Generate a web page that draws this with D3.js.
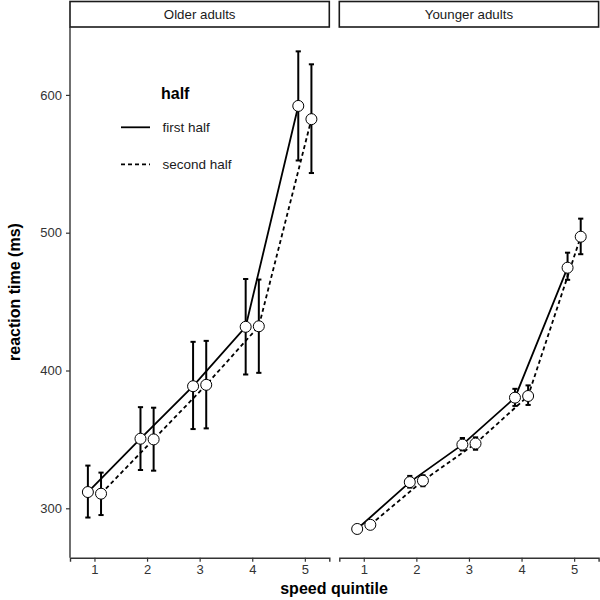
<!DOCTYPE html>
<html><head><meta charset="utf-8">
<script src="https://cdn.jsdelivr.net/npm/d3@7"></script>
<style>body{margin:0;background:#fff}</style>
</head><body>
<svg id="chart" width="600" height="600"></svg>
<script>
const quintiles = [1, 2, 3, 4, 5];
const groups = ["Older adults", "Younger adults"];
const halves = ["first half", "second half"];
const yTicks = [300, 400, 500, 600];

const olderFirst   = [311.8, 350.5, 388.6, 431.7, 592.0];
const olderFirstLo = [293.3, 327.8, 357.5, 397.1, 552.4];
const olderFirstHi = [331.0, 373.4, 420.8, 466.4, 631.6];
const olderSecond   = [310.6, 350.0, 389.6, 432.1, 582.4];
const olderSecondLo = [295.1, 327.3, 358.0, 398.3, 543.3];
const olderSecondHi = [325.9, 373.0, 421.5, 466.0, 622.2];

const youngerFirst   = [285.0, 319.0, 346.2, 380.3, 474.6];
const youngerFirstLo = [283.5, 315.0, 342.0, 374.3, 465.8];
const youngerFirstHi = [286.8, 323.5, 351.0, 386.7, 485.5];
const youngerSecond   = [288.0, 320.0, 347.0, 381.5, 497.1];
const youngerSecondLo = [286.0, 316.0, 342.5, 375.0, 484.4];
const youngerSecondHi = [290.0, 324.0, 351.5, 389.2, 510.2];

const seriesData = {
  "Older adults": [
    {half: halves[0], mean: olderFirst, lo: olderFirstLo, hi: olderFirstHi},
    {half: halves[1], mean: olderSecond, lo: olderSecondLo, hi: olderSecondHi}
  ],
  "Younger adults": [
    {half: halves[0], mean: youngerFirst, lo: youngerFirstLo, hi: youngerFirstHi},
    {half: halves[1], mean: youngerSecond, lo: youngerSecondLo, hi: youngerSecondHi}
  ]
};

const svg = d3.select("#chart");
const font = "'Liberation Sans', Arial, sans-serif";
const panelW = 259.3, panelTop = 27, panelBottom = 557.7;
const panelX = [70, 339.3];
const dodge = {"first half": -0.125, "second half": 0.125};
const dash = {"first half": null, "second half": "4,3"};

const y = d3.scaleLinear().domain([300, 600]).range([508.3, 94.9]);
const x = d3.scaleLinear().domain([0.535, 5.465]).range([0, panelW]);

groups.forEach((g, gi) => {
  const p = svg.append("g").attr("transform", `translate(${panelX[gi]},0)`);
  // strip
  p.append("rect").attr("x", 0).attr("y", 1.5).attr("width", panelW).attr("height", 25.5)
    .attr("fill", "#fff").attr("stroke", "#1a1a1a").attr("stroke-width", 1.6);
  p.append("text").attr("x", panelW / 2).attr("y", 19).attr("text-anchor", "middle")
    .attr("font-family", font).attr("font-size", 13.3).attr("fill", "#1a1a1a").text(g);

  // x axis
  const xa = p.append("g").attr("transform", `translate(0,${panelBottom})`)
    .call(d3.axisBottom(x).tickValues(quintiles).tickFormat(d3.format("d")).tickSize(4).tickPadding(3));
  xa.select(".domain").attr("stroke", "#333").attr("stroke-width", 1.4);
  xa.selectAll(".tick line").attr("stroke", "#333").attr("stroke-width", 1.2);
  xa.selectAll(".tick text").attr("font-family", font).attr("font-size", 13).attr("fill", "#333");

  if (gi === 0) {
    const ya = p.append("g")
      .call(d3.axisLeft(y).tickValues(yTicks).tickSize(4).tickPadding(4));
    ya.select(".domain").attr("d", `M0,${panelTop}V${panelBottom}`).attr("stroke", "#333").attr("stroke-width", 1.4);
    ya.selectAll(".tick line").attr("stroke", "#333").attr("stroke-width", 1.2);
    ya.selectAll(".tick text").attr("font-family", font).attr("font-size", 13).attr("fill", "#333");
  }

  const series = seriesData[g];
  const line = d3.line().x(d => x(d.q + dodge[d.half])).y(d => y(d.v));
  series.forEach(s => {
    const pts = quintiles.map((q, i) => ({q, v: s.mean[i], lo: s.lo[i], hi: s.hi[i], half: s.half}));
    s.pts = pts;
    p.append("path").datum(pts).attr("d", line).attr("fill", "none")
      .attr("stroke", "#000").attr("stroke-width", 1.8)
      .attr("stroke-dasharray", dash[s.half]);
  });
  series.forEach(s => {
    const eb = p.append("g").attr("stroke", "#000").attr("stroke-width", 2);
    s.pts.forEach(d => {
      const cx = x(d.q + dodge[d.half]);
      eb.append("line").attr("x1", cx).attr("x2", cx).attr("y1", y(d.lo)).attr("y2", y(d.hi));
      eb.append("line").attr("x1", cx - 2.6).attr("x2", cx + 2.6).attr("y1", y(d.lo)).attr("y2", y(d.lo));
      eb.append("line").attr("x1", cx - 2.6).attr("x2", cx + 2.6).attr("y1", y(d.hi)).attr("y2", y(d.hi));
    });
  });
  series.forEach(s => {
    p.selectAll(null).data(s.pts).enter().append("circle")
      .attr("cx", d => x(d.q + dodge[d.half])).attr("cy", d => y(d.v)).attr("r", 5.5)
      .attr("fill", "#fff").attr("stroke", "#000").attr("stroke-width", 1);
  });
});

// legend
const lg = svg.append("g").attr("font-family", font);
lg.append("text").attr("x", 161).attr("y", 99).attr("font-size", 16).attr("font-weight", "bold").attr("fill", "#000").text("half");
halves.forEach((h, i) => {
  const ly = 127.3 + i * 37;
  lg.append("line").attr("x1", 121).attr("x2", 150).attr("y1", ly).attr("y2", ly)
    .attr("stroke", "#000").attr("stroke-width", 1.8).attr("stroke-dasharray", dash[h]);
  lg.append("text").attr("x", 162.5).attr("y", ly + 4.8).attr("font-size", 13.5).attr("fill", "#1a1a1a").text(h);
});

// axis titles
svg.append("text").attr("x", 334).attr("y", 594).attr("text-anchor", "middle")
  .attr("font-family", font).attr("font-size", 16).attr("font-weight", "bold").text("speed quintile");
svg.append("text").attr("transform", "translate(20,292) rotate(-90)").attr("text-anchor", "middle")
  .attr("font-family", font).attr("font-size", 16).attr("font-weight", "bold").text("reaction time (ms)");
</script>
</body></html>
